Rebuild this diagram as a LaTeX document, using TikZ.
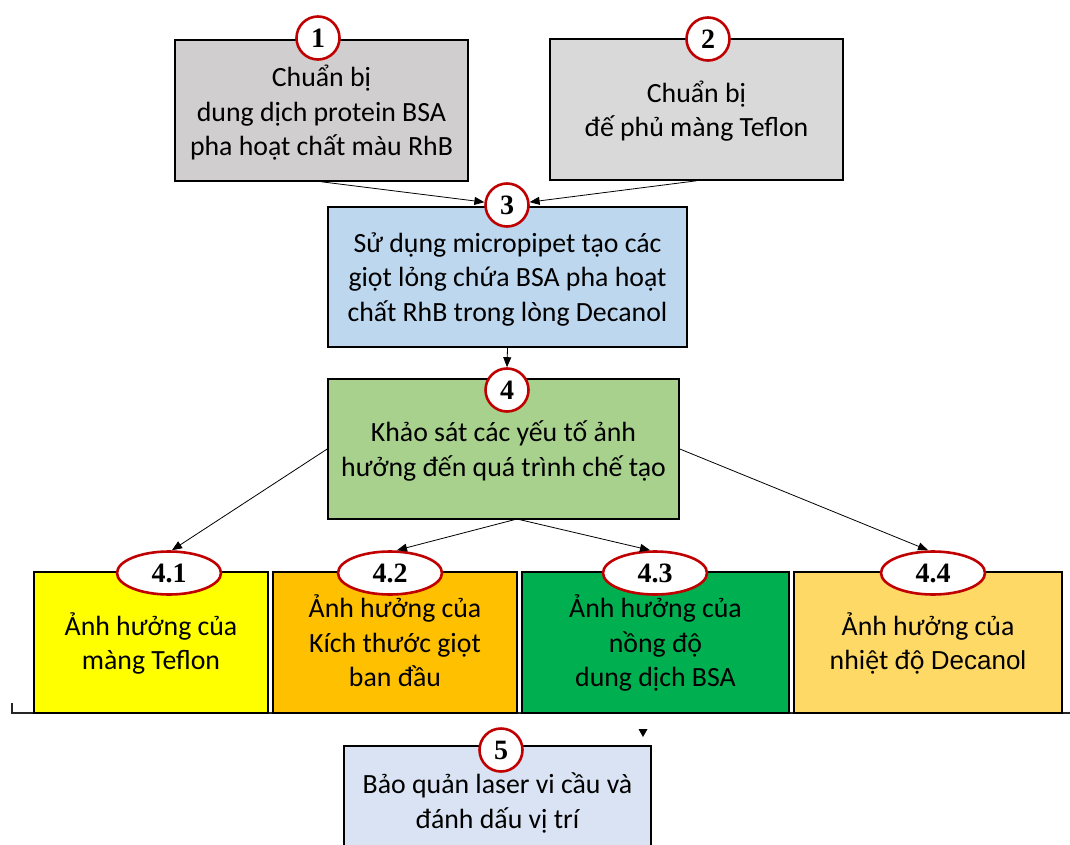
\documentclass[tikz,border=0pt]{standalone}
\usepackage{fontspec}
\setmainfont{Carlito}
\newfontfamily\numfont{Liberation Serif}
\newfontfamily\arialfont{Liberation Sans}
\usetikzlibrary{arrows.meta,shapes.geometric}
\definecolor{cA}{HTML}{D0CECE}
\definecolor{cB}{HTML}{D9D9D9}
\definecolor{cC}{HTML}{BDD7EE}
\definecolor{cD}{HTML}{A9D18E}
\definecolor{cE}{HTML}{FFFF00}
\definecolor{cF}{HTML}{FFC000}
\definecolor{cG}{HTML}{00B050}
\definecolor{cH}{HTML}{FFD966}
\definecolor{cI}{HTML}{DAE3F3}
\definecolor{badgered}{HTML}{C00000}
\newcommand{\boxtxt}[2][3]{\raisebox{-#1pt}[\height][\depth]{\begin{tabular}{@{}c@{}}#2\end{tabular}}}
\tikzset{
  box/.style={draw=black, line width=1.6pt, inner sep=0pt, align=center,
    font=\fontsize{27.8}{34.5}\selectfont},
  lowbox/.style={box, line width=2.2pt, minimum height=141pt},
  badge/.style={circle, draw=badgered, fill=white, line width=2.6pt,
    minimum size=43pt, inner sep=0pt, font=\numfont\bfseries\fontsize{28}{28}\selectfont},
  ebadge/.style={ellipse, draw=badgered, fill=white, line width=2.6pt,
    minimum width=104pt, minimum height=43pt, inner sep=0pt,
    font=\numfont\bfseries\fontsize{28}{28}\selectfont},
  conn/.style={draw=black, line width=0.8pt, -{Triangle[length=10pt,width=8pt]}}
}
\begin{document}
\begin{tikzpicture}[x=1pt,y=-1pt]
\useasboundingbox (0,0) rectangle (1070,845);
\clip (0,0) rectangle (1070,845);
\fill[white] (0,0) rectangle (1070,845);
% bracket line
\draw[line width=1.3pt, black!85] (12,703) -- (12,713) -- (1070,713);
% boxes
\node[box, fill=cA, minimum width=293pt, minimum height=141pt] (b1) at (321.5,110.5)
  {\boxtxt[4]{Chuẩn bị\\dung dịch protein BSA\\pha hoạt chất màu RhB}};
\node[box, fill=cB, minimum width=293pt, minimum height=141pt] (b2) at (696.5,109.5)
  {\boxtxt[3]{Chuẩn bị\\đế phủ màng Teflon}};
\node[box, fill=cC, minimum width=359pt, minimum height=140pt] (b3) at (507.5,277)
  {\boxtxt[3]{Sử dụng micropipet tạo các\\giọt lỏng chứa BSA pha hoạt\\chất RhB trong lòng Decanol}};
\node[box, fill=cD, minimum width=351pt, minimum height=140pt] (b4) at (503.5,449)
  {\boxtxt[3]{Khảo sát các yếu tố ảnh\\hưởng đến quá trình chế tạo}};
\node[lowbox, fill=cE, minimum width=234pt] (b41) at (151,642.5)
  {\boxtxt[3]{Ảnh hưởng của\\màng Teflon}};
\node[lowbox, fill=cF, minimum width=244pt] (b42) at (395,642.5)
  {\boxtxt[3]{Ảnh hưởng của\\Kích thước giọt\\ban đầu}};
\node[lowbox, fill=cG, minimum width=267pt] (b43) at (655.5,642.5)
  {\boxtxt[3]{Ảnh hưởng của\\nồng độ\\dung dịch BSA}};
\node[lowbox, fill=cH, minimum width=268pt] (b44) at (928,642.5)
  {\boxtxt[3]{Ảnh hưởng của\\nhiệt độ {\arialfont\fontsize{26}{34}\selectfont Decanol}}};
\node[box, fill=cI, minimum width=307pt, minimum height=110pt] (b5) at (497.5,801)
  {\boxtxt[3]{Bảo quản laser vi cầu và\\đánh dấu vị trí}};
% badges
\node[badge] (c1) at (318,38) {1};
\node[badge] (c2) at (708,39) {2};
\node[badge] (c3) at (507,205) {3};
\node[badge] (c4) at (507,390) {4};
\node[badge] (c5) at (501,750) {5};
\node[ebadge] (e41) at (169,573) {4.1};
\node[ebadge] (e42) at (390,573) {4.2};
\node[ebadge] (e43) at (655,573) {4.3};
\node[ebadge] (e44) at (933,573) {4.4};
% connectors
\coordinate (m4) at (517,519);
\draw[conn] (b1.south) -- (c3);
\draw[conn] (b2.south) -- (c3);
\draw[conn] (b3.south) -- (c4.north);
\draw[conn] (b4.west) -- ([xshift=3pt]e41.north);
\draw[conn] (b4.east) -- ([xshift=-5pt]e44.north);
\draw[conn] (m4) -- ([xshift=7pt]e42.north);
\draw[conn] (m4) -- ([xshift=-5pt]e43.north);
% stray arrowhead
\fill[black] (638.5,729) -- (647.5,729) -- (643,737) -- cycle;
\end{tikzpicture}
\end{document}
